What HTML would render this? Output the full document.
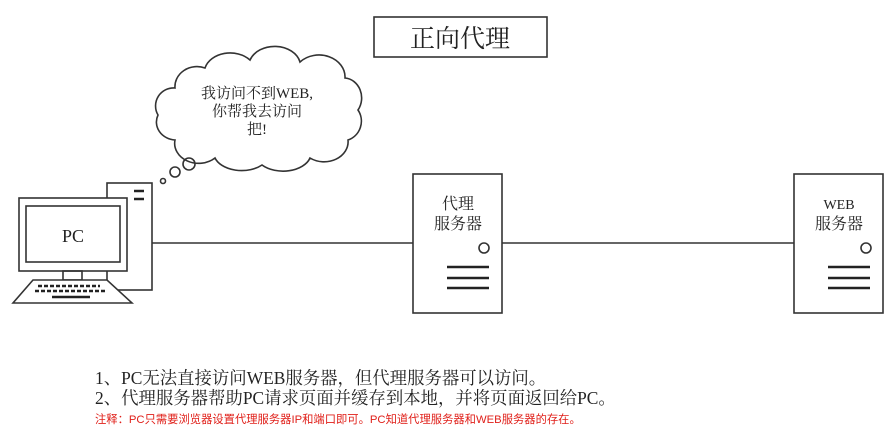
<!DOCTYPE html>
<html><head><meta charset="utf-8"><style>
body{margin:0;background:#fff;}
svg{display:block;}
text{font-family:"Liberation Serif","Noto Serif CJK SC",serif;fill:#222;}
</style></head><body>
<svg width="893" height="437" viewBox="0 0 893 437" xmlns="http://www.w3.org/2000/svg">
<g fill="none" stroke="#333" stroke-width="1.6">
<rect x="374" y="17" width="173" height="40"/>
<path d="M175,88 A22,20 0 0 1 205,68 A26,20 0 0 1 250,60 A26,20 0 0 1 300,62 A26,22 0 0 1 345,78 A18,20 0 0 1 358,110 A20,20 0 0 1 348,140 A24,20 0 0 1 310,158 A28,18 0 0 1 262,165 A28,18 0 0 1 215,158 A24,20 0 0 1 175,140 A20,18 0 0 1 158,115 A18,18 0 0 1 175,88 Z" fill="#fff"/>
<circle cx="189" cy="164" r="6"/>
<circle cx="175" cy="172" r="5"/>
<circle cx="163" cy="181" r="2.5"/>
<line x1="152" y1="243" x2="413" y2="243"/>
<line x1="502" y1="243" x2="794" y2="243"/>
<rect x="107" y="183" width="45" height="107" fill="#fff"/>
<rect x="19" y="198" width="108" height="73" fill="#fff"/>
<rect x="26" y="206" width="94" height="56"/>
<rect x="63" y="271" width="19" height="9"/>
<path d="M33,280 L107,280 L132,303 L13,303 Z" fill="#fff"/>
<rect x="413" y="174" width="89" height="139"/>
<rect x="794" y="174" width="89" height="139"/>
<circle cx="484" cy="248" r="5"/>
<circle cx="866" cy="248" r="5"/>
</g>
<g stroke="#222" stroke-width="2.5">
<line x1="447" y1="267" x2="489" y2="267"/><line x1="447" y1="278" x2="489" y2="278"/><line x1="447" y1="288" x2="489" y2="288"/>
<line x1="828" y1="267" x2="870" y2="267"/><line x1="828" y1="278" x2="870" y2="278"/><line x1="828" y1="288" x2="870" y2="288"/>
<line x1="134" y1="191" x2="144" y2="191"/><line x1="134" y1="199" x2="144" y2="199"/>
<line x1="38" y1="286" x2="100" y2="286" stroke-dasharray="4,2"/>
<line x1="35" y1="291" x2="106" y2="291" stroke-dasharray="4,2"/>
<line x1="52" y1="297" x2="90" y2="297"/>
</g>
<text x="460" y="47" font-size="25" text-anchor="middle">正向代理</text>
<text x="257" y="98" font-size="15" text-anchor="middle">我访问不到WEB,</text>
<text x="257" y="116" font-size="15" text-anchor="middle">你帮我去访问</text>
<text x="257" y="134" font-size="15" text-anchor="middle">把!</text>
<text x="73" y="242" font-size="18" text-anchor="middle">PC</text>
<text x="458" y="209" font-size="16" text-anchor="middle">代理</text>
<text x="458" y="229" font-size="16" text-anchor="middle">服务器</text>
<text x="839" y="209" font-size="14" text-anchor="middle">WEB</text>
<text x="839" y="229" font-size="16" text-anchor="middle">服务器</text>
<text x="95" y="384" font-size="17.4">1、PC无法直接访问WEB服务器，但代理服务器可以访问。</text>
<text x="95" y="404" font-size="17.4">2、代理服务器帮助PC请求页面并缓存到本地，并将页面返回给PC。</text>
<text x="95" y="423" font-size="11.3" style="fill:#e0201a;font-family:'Liberation Sans','Noto Sans CJK SC',sans-serif">注释：PC只需要浏览器设置代理服务器IP和端口即可。PC知道代理服务器和WEB服务器的存在。</text>
</svg>
</body></html>
